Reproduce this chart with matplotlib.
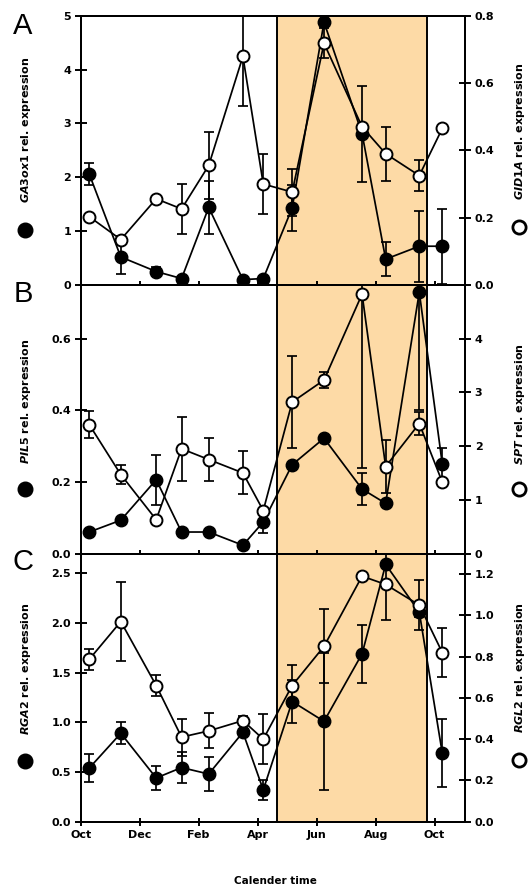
import matplotlib
matplotlib.use("Agg")
import matplotlib.pyplot as plt
from matplotlib.lines import Line2D
from matplotlib.transforms import ScaledTranslation

plt.rcParams['font.family'] = ['DejaVu Sans']
plt.rcParams['mathtext.fontset'] = 'custom'
plt.rcParams['mathtext.it'] = 'DejaVu Sans:italic:bold'
plt.rcParams['mathtext.rm'] = 'DejaVu Sans:bold'
plt.rcParams['mathtext.bf'] = 'DejaVu Sans:bold'

# ---- data (x in months after 1 Oct) ----
months = [0.29, 1.36, 2.56, 3.42, 4.34, 5.50, 6.19, 7.17, 8.25, 9.54, 10.34, 11.48, 12.26]
month_ticks = [0, 2, 4, 6, 8, 10, 12]
month_labels = ["Oct", "Dec", "Feb", "Apr", "Jun", "Aug", "Oct"]
summer_start, summer_end = 6.65, 11.75

ga3ox1 = [2.06, 0.52, 0.25, 0.12, 1.44, 0.10, 0.12, 1.43, 4.88, 2.81, 0.48, 0.72, 0.72]
ga3ox1_err = [0.20, 0.32, 0.09, 0.04, 0.50, 0.03, 0.04, 0.43, 0.0, 0.89, 0.32, 0.66, 0.70]
gid1a = [0.203, 0.135, 0.256, 0.226, 0.355, 0.679, 0.300, 0.276, 0.718, 0.470, 0.390, 0.325, 0.465]
gid1a_err = [0.0, 0.01, 0.0, 0.075, 0.10, 0.148, 0.09, 0.07, 0.045, 0.0, 0.08, 0.045, 0.0]

pil5 = [0.060, 0.093, 0.206, 0.060, 0.060, 0.023, 0.088, 0.248, 0.322, 0.180, 0.140, 0.730, 0.250]
pil5_err = [0.005, 0.010, 0.070, 0.005, 0.005, 0.005, 0.030, 0.0, 0.0, 0.045, 0.0, 0.330, 0.045]
spt = [2.40, 1.47, 0.63, 1.95, 1.75, 1.50, 0.80, 2.82, 3.23, 4.83, 1.62, 2.42, 1.33]
spt_err = [0.25, 0.18, 0.0, 0.60, 0.40, 0.40, 0.0, 0.85, 0.15, 3.23, 0.50, 0.22, 0.0]

rga2 = [0.54, 0.89, 0.44, 0.545, 0.48, 0.90, 0.32, 1.21, 1.01, 1.69, 2.59, 2.11, 0.69]
rga2_err = [0.14, 0.11, 0.12, 0.16, 0.17, 0.0, 0.10, 0.22, 0.69, 0.29, 0.0, 0.05, 0.34]
rgl2 = [0.787, 0.97, 0.66, 0.41, 0.44, 0.49, 0.40, 0.66, 0.85, 1.19, 1.15, 1.05, 0.82]
rgl2_err = [0.05, 0.19, 0.05, 0.09, 0.085, 0.02, 0.12, 0.10, 0.18, 0.0, 0.17, 0.12, 0.12]

panels = [
    dict(letter="A", left=ga3ox1, left_err=ga3ox1_err, right=gid1a, right_err=gid1a_err,
         lgene="GA3ox1", rgene="GID1A", lylim=(0, 5), rylim=(0, 0.8),
         lticks=[0, 1, 2, 3, 4, 5], lticklabels=["0", "1", "2", "3", "4", "5"],
         rticks=[0, 0.2, 0.4, 0.6, 0.8], rticklabels=["0.0", "0.2", "0.4", "0.6", "0.8"]),
    dict(letter="B", left=pil5, left_err=pil5_err, right=spt, right_err=spt_err,
         lgene="PIL5", rgene="SPT", lylim=(0, 0.75), rylim=(0, 5.0),
         lticks=[0, 0.2, 0.4, 0.6], lticklabels=["0.0", "0.2", "0.4", "0.6"],
         rticks=[0, 1, 2, 3, 4], rticklabels=["0", "1", "2", "3", "4"]),
    dict(letter="C", left=rga2, left_err=rga2_err, right=rgl2, right_err=rgl2_err,
         lgene="RGA2", rgene="RGL2", lylim=(0, 2.7), rylim=(0, 1.3),
         lticks=[0, 0.5, 1.0, 1.5, 2.0, 2.5], lticklabels=["0.0", "0.5", "1.0", "1.5", "2.0", "2.5"],
         rticks=[0, 0.2, 0.4, 0.6, 0.8, 1.0, 1.2], rticklabels=["0.0", "0.2", "0.4", "0.6", "0.8", "1.0", "1.2"]),
]

W, H = 528, 888
fig = plt.figure(figsize=(W / 100, H / 100), dpi=100)

def fx(px):
    return px / W

def fy(py):
    return 1 - py / H

ax_left_px, ax_right_px = 80.7, 465.0
bounds = [(15.7, 285.0), (285.0, 553.5), (553.5, 821.7)]
label_pos = [  # (left text y, left marker y, right text y, right marker y)
    (130, 230, 131, 227),
    (401, 489, 404, 489),
    (669, 761, 668, 760),
]
letter_base = [34, 302, 570]

LW = 1.25
SPW = 1.4
shade = "#FDDAA6"

for i, p in enumerate(panels):
    top, bot = bounds[i]
    ax = fig.add_axes([fx(ax_left_px), fy(bot), fx(ax_right_px) - fx(ax_left_px), (bot - top) / H])
    ax2 = ax.twinx()
    ax.set_xlim(0, 13.03)
    ax.axvspan(summer_start, summer_end, facecolor=shade, edgecolor="none", zorder=0)
    ax.axvline(summer_start, color="black", lw=SPW, zorder=0.5)
    ax.axvline(summer_end, color="black", lw=SPW, zorder=0.5)

    # left series (filled)
    ax.errorbar(months, p["left"], yerr=p["left_err"], fmt="none", ecolor="black",
                elinewidth=LW, capsize=3.3, capthick=LW, zorder=2)
    ax.plot(months, p["left"], "-o", color="black", lw=LW, ms=9, mfc="black",
            mec="black", mew=1.0, zorder=3, clip_on=False)
    # right series (open)
    ax2.errorbar(months, p["right"], yerr=p["right_err"], fmt="none", ecolor="black",
                 elinewidth=LW, capsize=3.3, capthick=LW, zorder=2)
    ax2.plot(months, p["right"], "-o", color="black", lw=LW, ms=8.6, mfc="white",
             mec="black", mew=1.4, zorder=3, clip_on=False)

    ax.set_ylim(*p["lylim"])
    ax2.set_ylim(*p["rylim"])
    ax.set_yticks(p["lticks"])
    ax.set_yticklabels(p["lticklabels"])
    ax2.set_yticks(p["rticks"])
    ax2.set_yticklabels(p["rticklabels"])
    ax.set_xticks(month_ticks)
    if i == 2:
        ax.set_xticklabels(month_labels)
        for lab in ax.get_xticklabels():
            lab.set_transform(lab.get_transform() + ScaledTranslation(-3.5 / 100, 0, fig.dpi_scale_trans))
    else:
        ax.set_xticklabels([])

    for a in (ax, ax2):
        for s in a.spines.values():
            s.set_linewidth(SPW)
    ax.tick_params(axis="y", direction="inout", length=9, width=SPW, labelsize=8, pad=2.5)
    ax2.tick_params(axis="y", direction="inout", length=9, width=SPW, labelsize=8, pad=2.5)
    ax.tick_params(axis="x", direction="inout", length=5.5, width=SPW, labelsize=8, pad=3)
    for lab in ax.get_yticklabels() + ax2.get_yticklabels() + ax.get_xticklabels():
        lab.set_fontweight("bold")

    # y labels with marker symbols
    ly, lmy, ry, rmy = label_pos[i]
    fig.text(fx(26), fy(ly), r"$\mathit{%s}$ rel. expression" % p["lgene"], rotation=90,
             ha="center", va="center", fontsize=8, fontweight="bold")
    fig.add_artist(Line2D([fx(24.5)], [fy(lmy)], marker="o", ms=10.5, mfc="black",
                          mec="black", transform=fig.transFigure))
    fig.text(fx(520), fy(ry), r"$\mathit{%s}$ rel. expression" % p["rgene"], rotation=90,
             ha="center", va="center", fontsize=8, fontweight="bold")
    fig.add_artist(Line2D([fx(519)], [fy(rmy)], marker="o", ms=9.5, mfc="white",
                          mec="black", mew=2.0, transform=fig.transFigure))

    fig.text(fx(23), fy(letter_base[i]), p["letter"], ha="center", va="baseline",
             fontsize=21, family=["Liberation Sans", "DejaVu Sans"])

fig.text(fx(275), fy(881), "Calender time", ha="center", va="center",
         fontsize=7.5, fontweight="bold")

fig.savefig("out.png", dpi=100)
